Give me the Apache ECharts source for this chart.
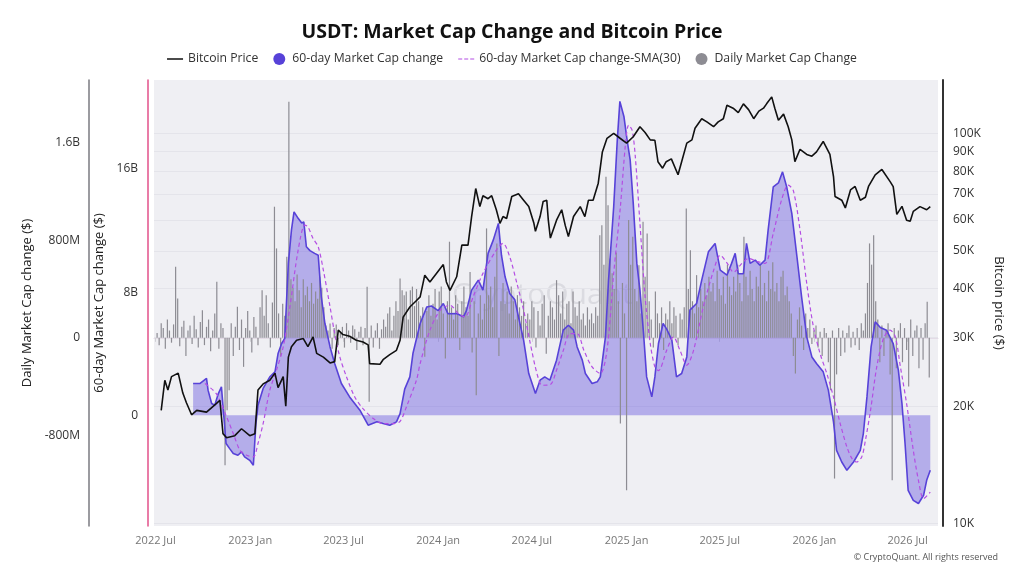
<!DOCTYPE html>
<html>
<head>
<meta charset="utf-8">
<script src="https://cdn.jsdelivr.net/npm/echarts@6/dist/echarts.min.js"></script>
<style>
    html, body { margin: 0; padding: 0; background: #fff; }
    #chart { width: 1024px; height: 576px; }
</style>
</head>
<body>
<div id="chart"></div>
<script>
// Bitcoin price, thousands of dollars
var btcPrice = [
    ['2022-07-12', 19.5], ['2022-07-19', 23.3], ['2022-07-25', 22.0], ['2022-08-01', 23.8], ['2022-08-14', 24.3],
    ['2022-08-23', 21.6], ['2022-08-30', 20.4], ['2022-09-09', 19.0], ['2022-09-19', 19.5], ['2022-10-08', 19.3],
    ['2022-10-27', 20.3], ['2022-11-03', 20.7], ['2022-11-09', 17.0], ['2022-11-16', 16.6], ['2022-12-02', 16.8],
    ['2022-12-15', 17.5], ['2022-12-31', 16.8], ['2023-01-10', 17.0], ['2023-01-16', 22.0], ['2023-01-26', 22.8],
    ['2023-02-08', 23.3], ['2023-02-18', 24.3], ['2023-02-24', 22.3], ['2023-03-06', 23.8], ['2023-03-11', 20.0],
    ['2023-03-16', 26.7], ['2023-03-22', 28.4], ['2023-04-01', 29.5], ['2023-04-14', 29.8], ['2023-04-23', 28.4],
    ['2023-05-03', 30.1], ['2023-05-10', 27.3], ['2023-05-23', 26.7], ['2023-06-05', 25.8], ['2023-06-14', 26.0],
    ['2023-06-21', 31.3], ['2023-06-30', 30.5], ['2023-07-13', 30.2], ['2023-07-26', 29.5], ['2023-08-08', 29.2],
    ['2023-08-18', 28.7], ['2023-08-21', 25.7], ['2023-09-10', 25.6], ['2023-09-16', 26.3], ['2023-09-29', 27.1],
    ['2023-10-12', 27.8], ['2023-10-19', 29.5], ['2023-10-25', 33.8], ['2023-11-07', 35.9], ['2023-11-20', 37.3],
    ['2023-11-27', 38.1], ['2023-12-06', 43.3], ['2023-12-16', 41.6], ['2023-12-29', 43.8], ['2024-01-11', 46.1],
    ['2024-01-17', 41.6], ['2024-01-24', 39.6], ['2024-02-06', 42.9], ['2024-02-16', 51.7], ['2024-02-28', 51.7],
    ['2024-03-06', 61.2], ['2024-03-14', 72.2], ['2024-03-22', 64.9], ['2024-03-28', 69.2], ['2024-04-07', 68.0],
    ['2024-04-14', 69.2], ['2024-04-23', 63.7], ['2024-04-30', 58.8], ['2024-05-06', 61.2], ['2024-05-13', 60.5],
    ['2024-05-23', 68.9], ['2024-06-05', 70.0], ['2024-06-15', 67.4], ['2024-06-25', 64.9], ['2024-07-05', 58.8],
    ['2024-07-08', 56.1], ['2024-07-17', 61.2], ['2024-07-23', 66.9], ['2024-07-30', 67.4], ['2024-08-02', 59.9],
    ['2024-08-06', 53.9], ['2024-08-18', 59.9], ['2024-08-28', 63.7], ['2024-09-04', 58.0], ['2024-09-10', 54.4],
    ['2024-09-20', 61.2], ['2024-10-03', 64.9], ['2024-10-12', 61.2], ['2024-10-19', 67.4], ['2024-10-28', 67.4],
    ['2024-11-07', 74.5], ['2024-11-15', 89.6], ['2024-11-24', 97.1], ['2024-12-07', 100], ['2024-12-20', 97.0],
    ['2025-01-01', 94.4], ['2025-01-14', 98.0], ['2025-01-27', 104], ['2025-02-06', 100.5], ['2025-02-16', 96.2],
    ['2025-02-25', 96.0], ['2025-03-03', 84.6], ['2025-03-12', 81.4], ['2025-03-19', 84.6], ['2025-03-29', 86.0],
    ['2025-04-11', 78.3], ['2025-04-18', 84.6], ['2025-04-28', 94.4], ['2025-05-08', 96.2], ['2025-05-14', 103],
    ['2025-05-27', 109], ['2025-06-06', 107], ['2025-06-19', 104], ['2025-06-28', 107], ['2025-07-08', 109],
    ['2025-07-15', 118], ['2025-07-27', 116], ['2025-08-06', 113], ['2025-08-16', 119], ['2025-08-26', 115],
    ['2025-09-05', 109], ['2025-09-15', 114], ['2025-09-24', 116], ['2025-09-30', 119], ['2025-10-10', 124],
    ['2025-10-16', 116], ['2025-10-23', 108], ['2025-11-02', 112], ['2025-11-11', 104], ['2025-11-18', 96.2],
    ['2025-11-24', 84.6], ['2025-12-04', 91.0], ['2025-12-17', 88.3], ['2025-12-27', 87.4], ['2026-01-05', 89.6],
    ['2026-01-18', 95.3], ['2026-01-31', 88.3], ['2026-02-07', 77.5], ['2026-02-10', 68.9], ['2026-02-23', 67.4],
    ['2026-03-02', 64.4], ['2026-03-12', 71.6], ['2026-03-21', 73.1], ['2026-03-31', 67.4], ['2026-04-10', 68.6],
    ['2026-04-16', 73.1], ['2026-04-29', 78.3], ['2026-05-12', 80.8], ['2026-05-28', 75.2], ['2026-06-03', 73.0],
    ['2026-06-10', 62.0], ['2026-06-20', 65.0], ['2026-06-29', 59.9], ['2026-07-06', 59.5], ['2026-07-12', 63.1],
    ['2026-07-25', 64.9], ['2026-08-07', 63.7], ['2026-08-14', 64.9]
];

// 60-day market cap change, billions
var mcap60 = [
    ['2022-09-12', 2.06], ['2022-09-25', 2.06], ['2022-10-08', 2.39], ['2022-10-11', 1.63], ['2022-10-18', 0.76],
    ['2022-10-24', 0.65], ['2022-10-31', 1.41], ['2022-11-06', 1.84], ['2022-11-11', -0.21], ['2022-11-15', -1.84],
    ['2022-11-22', -2.17], ['2022-11-29', -2.49], ['2022-12-08', -2.6], ['2022-12-15', -2.38], ['2022-12-21', -2.71],
    ['2022-12-31', -2.93], ['2023-01-07', -3.25], ['2023-01-12', -0.54], ['2023-01-16', 0.65], ['2023-01-26', 1.74],
    ['2023-02-08', 2.49], ['2023-02-18', 2.82], ['2023-02-24', 4.01], ['2023-03-03', 4.66], ['2023-03-09', 4.99],
    ['2023-03-16', 9.87], ['2023-03-22', 12.03], ['2023-03-27', 13.22], ['2023-04-04', 12.8], ['2023-04-11', 12.5],
    ['2023-04-15', 12.57], ['2023-04-20', 10.95], ['2023-04-27', 10.7], ['2023-05-06', 10.52], ['2023-05-13', 10.4],
    ['2023-05-19', 7.7], ['2023-05-26', 5.96], ['2023-06-05', 4.44], ['2023-06-14', 3.36], ['2023-06-27', 2.06],
    ['2023-07-13', 1.19], ['2023-08-02', 0.33], ['2023-08-18', -0.65], ['2023-09-04', -0.43], ['2023-09-16', -0.54],
    ['2023-09-29', -0.65], ['2023-10-12', -0.43], ['2023-10-19', 0.1], ['2023-10-28', 1.7], ['2023-11-07', 2.49],
    ['2023-11-13', 4.01], ['2023-11-27', 5.96], ['2023-12-10', 7.04], ['2023-12-19', 7.1], ['2024-01-01', 6.8],
    ['2024-01-11', 7.26], ['2024-01-20', 6.6], ['2024-02-06', 6.61], ['2024-02-19', 6.4], ['2024-02-25', 6.8],
    ['2024-03-06', 8.13], ['2024-03-19', 8.78], ['2024-03-28', 8.13], ['2024-04-07', 10.52], ['2024-04-17', 11.38],
    ['2024-04-27', 12.47], ['2024-05-03', 10.4], ['2024-05-10', 9.0], ['2024-05-19', 7.92], ['2024-05-29', 7.5],
    ['2024-06-05', 6.4], ['2024-06-15', 4.88], ['2024-06-25', 2.71], ['2024-07-08', 1.41], ['2024-07-17', 2.28],
    ['2024-07-26', 2.49], ['2024-08-05', 2.28], ['2024-08-18', 3.58], ['2024-08-31', 5.53], ['2024-09-10', 5.85],
    ['2024-09-20', 5.53], ['2024-09-27', 4.44], ['2024-10-07', 3.58], ['2024-10-13', 2.71], ['2024-10-26', 2.06],
    ['2024-11-05', 2.17], ['2024-11-11', 2.49], ['2024-11-21', 5.09], ['2024-11-27', 8.78], ['2024-12-07', 13.55],
    ['2024-12-14', 17.9], ['2024-12-19', 20.4], ['2024-12-27', 19.4], ['2025-01-02', 17.9], ['2025-01-08', 16.6],
    ['2025-01-14', 13.77], ['2025-01-21', 9.87], ['2025-01-27', 8.13], ['2025-02-03', 5.31], ['2025-02-09', 2.49],
    ['2025-02-19', 1.19], ['2025-02-25', 2.49], ['2025-03-04', 4.66], ['2025-03-13', 5.96], ['2025-03-20', 5.6],
    ['2025-03-30', 4.88], ['2025-04-08', 2.49], ['2025-04-18', 2.71], ['2025-04-28', 3.79], ['2025-05-04', 6.83],
    ['2025-05-17', 7.26], ['2025-05-27', 8.78], ['2025-06-09', 10.62], ['2025-06-22', 11.17], ['2025-07-02', 9.43],
    ['2025-07-15', 9.1], ['2025-07-24', 9.87], ['2025-07-31', 10.52], ['2025-08-06', 9.2], ['2025-08-16', 9.2],
    ['2025-08-22', 11.17], ['2025-08-29', 9.87], ['2025-09-08', 10.08], ['2025-09-17', 9.76], ['2025-09-27', 10.08],
    ['2025-10-03', 12.03], ['2025-10-13', 14.85], ['2025-10-23', 15.1], ['2025-10-31', 15.82], ['2025-11-08', 14.85],
    ['2025-11-18', 13.12], ['2025-11-28', 10.3], ['2025-12-07', 7.7], ['2025-12-17', 5.09], ['2025-12-27', 3.79],
    ['2026-01-05', 3.36], ['2026-01-18', 2.82], ['2026-01-28', 1.63], ['2026-02-07', -0.43], ['2026-02-13', -2.28],
    ['2026-02-23', -3.04], ['2026-03-05', -3.58], ['2026-03-18', -3.04], ['2026-03-31', -2.28], ['2026-04-06', -1.19],
    ['2026-04-13', 1.19], ['2026-04-21', 4.44], ['2026-04-29', 6.07], ['2026-05-09', 5.7], ['2026-05-21', 5.53],
    ['2026-06-03', 4.66], ['2026-06-13', 2.93], ['2026-06-20', 0.76], ['2026-06-26', -1.84], ['2026-07-02', -4.88],
    ['2026-07-12', -5.53], ['2026-07-22', -5.74], ['2026-08-01', -5.2], ['2026-08-07', -4.23], ['2026-08-14', -3.58]
];

// 30-day SMA of the 60-day change, billions
var sma30 = [
    ['2022-10-05', 2.06], ['2022-10-27', 1.4], ['2022-11-16', -0.1], ['2022-11-29', -1.19], ['2022-12-12', -2.28],
    ['2022-12-25', -2.6], ['2023-01-07', -2.71], ['2023-01-16', -1.84], ['2023-01-26', -0.54], ['2023-02-08', 1.63],
    ['2023-02-21', 2.93], ['2023-03-06', 4.44], ['2023-03-19', 7.04], ['2023-04-04', 10.73], ['2023-04-17', 12.36],
    ['2023-04-23', 12.25], ['2023-05-03', 11.49], ['2023-05-13', 10.95], ['2023-05-23', 9.43], ['2023-06-05', 7.04],
    ['2023-06-14', 5.31], ['2023-06-24', 3.79], ['2023-07-07', 2.49], ['2023-07-23', 1.19], ['2023-08-08', 0.43],
    ['2023-08-28', -0.21], ['2023-09-16', -0.54], ['2023-10-06', -0.54], ['2023-10-19', -0.4], ['2023-11-01', 0.6],
    ['2023-11-20', 2.3], ['2023-11-27', 3.36], ['2023-12-16', 5.53], ['2024-01-05', 6.83], ['2024-01-24', 7.15],
    ['2024-02-09', 6.61], ['2024-02-22', 6.39], ['2024-03-09', 7.7], ['2024-03-28', 9.22], ['2024-04-23', 10.73],
    ['2024-05-06', 11.17], ['2024-05-19', 10.3], ['2024-06-02', 8.57], ['2024-06-15', 6.83], ['2024-06-28', 4.66],
    ['2024-07-11', 2.71], ['2024-07-21', 1.95], ['2024-08-06', 2.0], ['2024-08-18', 2.93], ['2024-08-31', 4.2],
    ['2024-09-13', 5.31], ['2024-09-27', 5.31], ['2024-10-10', 4.23], ['2024-10-26', 3.14], ['2024-11-11', 2.71],
    ['2024-11-24', 4.23], ['2024-12-07', 9.22], ['2024-12-20', 13.55], ['2024-12-30', 17.67], ['2025-01-05', 18.86],
    ['2025-01-12', 18.5], ['2025-01-18', 16.8], ['2025-01-27', 12.47], ['2025-02-06', 7.7], ['2025-02-16', 4.66],
    ['2025-02-25', 3.14], ['2025-03-04', 2.9], ['2025-03-20', 4.23], ['2025-04-02', 5.09], ['2025-04-15', 4.2],
    ['2025-04-28', 3.25], ['2025-05-11', 4.2], ['2025-05-30', 7.04], ['2025-06-19', 9.4], ['2025-07-02', 10.4],
    ['2025-07-15', 9.9], ['2025-07-28', 9.3], ['2025-08-13', 9.87], ['2025-08-26', 10.19], ['2025-09-11', 10.0],
    ['2025-09-27', 9.87], ['2025-10-13', 11.82], ['2025-10-29', 13.98], ['2025-11-11', 14.96], ['2025-11-21', 14.6],
    ['2025-12-04', 12.03], ['2025-12-17', 8.57], ['2025-12-30', 5.74], ['2026-01-12', 4.0], ['2026-01-25', 2.71],
    ['2026-02-07', 1.19], ['2026-02-20', -0.54], ['2026-03-05', -2.06], ['2026-03-15', -2.82], ['2026-03-24', -3.04],
    ['2026-04-03', -2.7], ['2026-04-10', -1.63], ['2026-04-20', 0.33], ['2026-05-02', 3.14], ['2026-05-15', 4.99],
    ['2026-05-28', 5.53], ['2026-06-07', 5.1], ['2026-06-17', 3.14], ['2026-06-29', 0.76], ['2026-07-12', -2.28],
    ['2026-07-22', -4.23], ['2026-08-01', -5.42], ['2026-08-14', -5.0]
];

// daily market cap change, millions, one bar every 4 days from dailyStart
var dailyStart = '2022-07-04';
var dailyStepDays = 4;
var dailyChange = [
    40, -60, 120, 80, -90, 150, 60, -40, 110, 583,
    323, -70, 90, 140, -150, 60, 100, -50, 180, 70,
    -80, 130, 227, -60, 90, 150, -110, 60, 200, 460,
    -90, 120, 80, -1045, -593, -430, 120, -150, 90, 254,
    -100, 150, -238, 80, 220, 60, -120, 170, 90, -60,
    250, 391, 180, 350, 120, -80, 290, 1075, 733, 200,
    -150, 280, 180, 665, 1936, 480, 410, 300, 520, 390,
    250, 480, 350, 420, 300, 450, 280, 380, 320, 500,
    410, 250, 100, 60, 118, -90, 80, 110, -60, 40,
    90, -80, 120, 60, -40, 100, 70, -100, 50, 90,
    -60, 80, 418, -525, 100, -80, 60, 120, -90, 70,
    150, 90, 200, 250, 60, 180, 300, 220, 487, 390,
    350, 380, 150, 390, 420, 260, 400, 300, 180, 250,
    -156, 220, 350, 180, 280, 400, 150, 380, 420, 200,
    -170, 300, 788, 250, 150, 350, 280, -100, 300, 420,
    250, 180, 540, -120, 300, -470, 200, 350, 150, 280,
    897, 350, 420, 250, 500, 774, -150, 300, 450, 280,
    380, 200, 420, 300, 150, 350, 250, 180, 300, 120,
    200, 150, 300, 250, -80, 220, 100, 280, 350, -130,
    180, 300, 250, 150, 473, 350, 200, 380, 150, 280,
    300, 120, 380, 250, 180, 300, 150, 200, 100, 250,
    150, 200, 120, 250, 180, 842, 924, 600, 1320, 1088,
    650, 530, 400, 700, 300, -703, 450, 200, -1250, 967,
    600, 828, 400, 300, 595, 200, 951, 500, 856, 300,
    150, -80, 380, 200, 120, 250, -100, 200, 150, 300,
    120, 250, 180, -60, 200, 150, 250, 1061, 400, 719,
    300, 200, 514, 250, 400, 300, 450, 350, 500, 380,
    450, 300, 550, 400, 350, 500, 280, 600, 420, 350,
    500, 380, 600, 450, 300, 829, 500, 350, 550, 400,
    300, 500, 420, 600, 350, 450, 300, 550, 400, 620,
    380, 450, 300, 500, 550, 350, 420, 300, 200, -150,
    -293, 150, 250, 100, -100, 200, 80, 150, -50, 60,
    100, -80, 50, -150, 80, 40, -200, -430, 60, -1154,
    -300, 80, -150, 60, -120, 40, 100, -80, 50, -60,
    80, -100, 120, 60, 200, 450, 774, 600, 842, 300,
    150, -200, 100, -150, 60, 120, -300, -1168, 80, -250,
    60, 120, -200, 80, -100, -400, 150, -150, 60, 100,
    -250, 80, -180, 120, 295, -325
];

var xTickDates = ['2022-07-01', '2023-01-01', '2023-07-01', '2024-01-01', '2024-07-01',
    '2025-01-01', '2025-07-01', '2026-01-01', '2026-07-01'];
var dailyTicks = [-800e6, 0, 800e6, 1600e6];
var mcapTicks = [0, 8e9, 16e9];
var btcTicks = [10000, 20000, 30000, 40000, 50000, 60000, 70000, 80000, 90000, 100000];

var MONTHS = ['Jan', 'Feb', 'Mar', 'Apr', 'May', 'Jun', 'Jul', 'Aug', 'Sep', 'Oct', 'Nov', 'Dec'];
var FONT = '"Open Sans", "Noto Sans", sans-serif';

// legend icons: thin line / dashed line; tiny corner specks keep the 16x12 box so the path is not stretched
var ICON_LINE = 'path://M0,0L0.01,0L0,0.01Z M0,5.3L16,5.3L16,6.8L0,6.8Z M16,12L15.99,12L16,11.99Z';
var ICON_DASH = 'path://M0,0L0.01,0L0,0.01Z M0,5.4L4,5.4L4,6.6L0,6.6Z M6,5.4L10,5.4L10,6.6L6,6.6Z M12,5.4L16,5.4L16,6.6L12,6.6Z M16,12L15.99,12L16,11.99Z';

function ts(s) {
    var p = s.split('-');
    return Date.UTC(+p[0], +p[1] - 1, +p[2]);
}

function scalePairs(list, k) {
    return list.map(function (d) { return [ts(d[0]), d[1] * k]; });
}

function moneyLabel(v) {
    if (v === 0) return '0';
    var a = Math.abs(v), s = v < 0 ? '-' : '';
    if (a >= 1e9) return s + (+(a / 1e9).toFixed(1)) + 'B';
    return s + (+(a / 1e6).toFixed(0)) + 'M';
}

var dailyData = [];
var t0 = ts(dailyStart);
for (var i = 0; i < dailyChange.length; i++) {
    dailyData.push([t0 + i * dailyStepDays * 86400000, dailyChange[i] * 1e6]);
}

var xTicks = xTickDates.map(ts);
var mcapColor = '#5742d8';

var chart = echarts.init(document.getElementById('chart'));
chart.setOption({
    animation: false,
    backgroundColor: '#fff',
    textStyle: {fontFamily: FONT},
    title: {
        text: 'USDT: Market Cap Change and Bitcoin Price',
        left: 'center',
        top: 17,
        textStyle: {fontSize: 19.5, fontWeight: 'bold', color: '#111', fontFamily: FONT}
    },
    legend: {
        top: 48,
        left: 'center',
        itemGap: 15,
        itemWidth: 16,
        itemHeight: 12,
        textStyle: {fontSize: 12.2, color: '#333', fontFamily: FONT},
        data: [
            {name: 'Bitcoin Price', icon: ICON_LINE},
            {name: '60-day Market Cap change', icon: 'circle'},
            {name: '60-day Market Cap change-SMA(30)', icon: ICON_DASH},
            {name: 'Daily Market Cap Change', icon: 'circle'}
        ]
    },
    grid: {
        left: 154, right: 86, top: 80, bottom: 50,
        show: true, backgroundColor: '#efeff3', borderWidth: 0
    },
    xAxis: {
        type: 'value',
        min: ts('2022-06-28'),
        max: ts('2026-08-29'),
        splitLine: {show: false},
        axisLine: {lineStyle: {color: '#e3dbe6'}},
        axisTick: {customValues: xTicks, length: 4, lineStyle: {color: '#cfcfd4'}},
        axisLabel: {
            customValues: xTicks,
            margin: 9,
            color: '#777',
            fontSize: 11,
            formatter: function (v) {
                var d = new Date(v);
                return d.getUTCFullYear() + ' ' + MONTHS[d.getUTCMonth()];
            }
        }
    },
    yAxis: [
        {
            type: 'value',
            position: 'left',
            offset: 65,
            min: -1543e6,
            max: 2114e6,
            name: 'Daily Market Cap change ($)',
            nameLocation: 'middle',
            nameGap: 50,
            nameTextStyle: {fontSize: 13, color: '#222'},
            axisLine: {show: true, lineStyle: {color: '#7a7a80', width: 1.5}},
            axisTick: {show: false},
            splitLine: {show: false},
            axisLabel: {customValues: dailyTicks, formatter: moneyLabel, color: '#333', fontSize: 12, margin: 9}
        },
        {
            type: 'value',
            position: 'left',
            offset: 6,
            min: -7.2e9,
            max: 21.79e9,
            name: '60-day Market Cap change ($)',
            nameLocation: 'middle',
            nameGap: 36,
            nameTextStyle: {fontSize: 13, color: '#222'},
            axisLine: {show: true, lineStyle: {color: '#e2508a', width: 1.5}},
            axisTick: {show: false},
            splitLine: {show: false},
            axisLabel: {customValues: mcapTicks, formatter: moneyLabel, color: '#333', fontSize: 12, margin: 10}
        },
        {
            type: 'log',
            position: 'right',
            offset: 5,
            min: 9859,
            max: 136978,
            name: 'Bitcoin price ($)',
            nameLocation: 'middle',
            nameGap: 43,
            nameRotate: -90,
            nameTextStyle: {fontSize: 13, color: '#222'},
            axisLine: {show: true, lineStyle: {color: '#333', width: 2}},
            axisTick: {show: false, customValues: btcTicks},
            splitLine: {show: true, lineStyle: {color: '#e4e4ea', width: 1}},
            axisLabel: {
                customValues: btcTicks,
                color: '#333',
                fontSize: 12,
                margin: 10,
                formatter: function (v) { return Math.round(v / 1000) + 'K'; }
            }
        }
    ],
    graphic: [
        {
            type: 'text',
            left: 452,
            top: 280,
            silent: true,
            style: {text: 'CryptoQuant', fontSize: 30, fontFamily: FONT, fill: 'rgba(120,120,130,0.16)'}
        },
        {
            type: 'text',
            right: 26,
            top: 553,
            silent: true,
            style: {text: '\u00a9 CryptoQuant. All rights reserved', fontSize: 9, fontFamily: FONT, fill: '#555'}
        }
    ],
    series: [
        {
            name: '60-day Market Cap change',
            type: 'line',
            yAxisIndex: 1,
            data: scalePairs(mcap60, 1e9),
            symbol: 'none',
            itemStyle: {color: mcapColor},
            lineStyle: {width: 0, opacity: 0},
            areaStyle: {color: 'rgba(98,82,222,0.6)'},
            z: 1
        },
        {
            name: 'Daily Market Cap Change',
            type: 'bar',
            yAxisIndex: 0,
            data: dailyData,
            barWidth: 1.2,
            itemStyle: {color: '#8d8c93'},
            z: 2
        },
        {
            name: '60-day Market Cap change',
            type: 'line',
            yAxisIndex: 1,
            data: scalePairs(mcap60, 1e9),
            symbol: 'none',
            itemStyle: {color: mcapColor},
            lineStyle: {color: mcapColor, width: 1.6},
            z: 3
        },
        {
            name: '60-day Market Cap change-SMA(30)',
            type: 'line',
            yAxisIndex: 1,
            data: scalePairs(sma30, 1e9),
            symbol: 'none',
            smooth: 0.3,
            itemStyle: {color: '#b44ee3'},
            lineStyle: {color: '#b44ee3', width: 1.2, type: [4, 3]},
            z: 4
        },
        {
            name: 'Bitcoin Price',
            type: 'line',
            yAxisIndex: 2,
            data: scalePairs(btcPrice, 1000),
            symbol: 'none',
            itemStyle: {color: '#111'},
            lineStyle: {color: '#111', width: 1.6},
            z: 5
        }
    ]
});
</script>
</body>
</html>
